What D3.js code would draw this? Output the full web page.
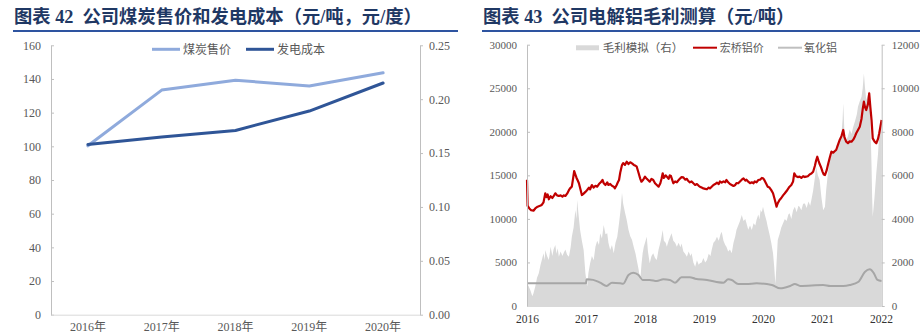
<!DOCTYPE html>
<html><head><meta charset="utf-8">
<script src="https://cdn.jsdelivr.net/npm/d3@7"></script>
<style>body{margin:0;background:#fff;} svg{display:block;}</style>
</head><body>
<svg id="c" width="920" height="334"></svg>
<script>
// ---------- DATA: left chart ----------
const leftTitle = "图表 42\u00A0\u00A0公司煤炭售价和发电成本（元/吨，元/度）";
const years = ["2016年", "2017年", "2018年", "2019年", "2020年"];
const coalPrice = [100.3, 133.4, 139.3, 135.8, 143.7];      // 煤炭售价 (left axis)
const powerCost = [0.158, 0.165, 0.171, 0.189, 0.215];      // 发电成本 (right axis)
const leftTicksL = [0, 20, 40, 60, 80, 100, 120, 140, 160];
const leftTicksR = [0, 0.05, 0.10, 0.15, 0.20, 0.25];
const leftLegend = ["煤炭售价", "发电成本"];

// ---------- DATA: right chart ----------
const rightTitle = "图表 43\u00A0\u00A0公司电解铝毛利测算（元/吨）";
const rightLegend = ["毛利模拟（右）", "宏桥铝价", "氧化铝"];
const yearTicks = [2016, 2017, 2018, 2019, 2020, 2021, 2022];
const priceTicks = [0, 5000, 10000, 15000, 20000, 25000, 30000];
const marginTicks = [0, 2000, 4000, 6000, 8000, 10000, 12000];
// 宏桥铝价 [decimal year, 元/吨] (left axis)
const alPrice = [
[2016.00,14500],[2016.01,11500],[2016.04,11200],[2016.07,11000],[2016.11,10940],[2016.14,11200],[2016.18,11400],[2016.22,11500],[2016.25,11600],[2016.28,11900],[2016.31,12940],[2016.33,12500],[2016.35,12800],[2016.37,12250],[2016.40,12600],[2016.43,12400],[2016.46,12700],[2016.48,12940],[2016.51,12700],[2016.54,12630],[2016.57,12700],[2016.60,12550],[2016.62,12700],[2016.65,12630],[2016.68,12900],[2016.71,13300],[2016.73,13510],[2016.76,13700],[2016.78,14600],[2016.80,15500],[2016.82,15100],[2016.84,14700],[2016.86,14400],[2016.88,14090],[2016.91,13300],[2016.93,12740],[2016.96,12900],[2016.99,13100],
[2017.02,13320],[2017.05,13600],[2017.07,13400],[2017.10,13890],[2017.13,13600],[2017.16,13800],[2017.19,13700],[2017.22,14000],[2017.25,14200],[2017.28,14470],[2017.30,14100],[2017.33,13890],[2017.36,14200],[2017.38,13900],[2017.41,14010],[2017.44,13800],[2017.47,13700],[2017.49,13510],[2017.52,13900],[2017.54,14200],[2017.56,14470],[2017.58,15300],[2017.61,16190],[2017.63,16400],[2017.66,16200],[2017.69,16570],[2017.72,16300],[2017.75,16500],[2017.78,16380],[2017.81,16200],[2017.84,16100],[2017.86,15990],[2017.89,15300],[2017.92,14600],[2017.94,14270],[2017.97,14500],
[2018.00,14850],[2018.03,14600],[2018.06,14400],[2018.08,14270],[2018.11,14600],[2018.14,14470],[2018.17,14100],[2018.20,13900],[2018.23,13700],[2018.26,14100],[2018.28,14600],[2018.30,15230],[2018.32,14700],[2018.35,15000],[2018.37,14850],[2018.40,14600],[2018.42,15000],[2018.44,14920],[2018.46,14500],[2018.48,14090],[2018.51,14300],[2018.54,14200],[2018.56,14380],[2018.59,14600],[2018.62,14800],[2018.65,14770],[2018.68,14500],[2018.71,14600],[2018.73,14380],[2018.76,14200],[2018.79,14300],[2018.82,14090],[2018.85,13900],[2018.88,14000],[2018.91,13800],[2018.93,13700],[2018.96,13600],[2018.99,13500],
[2019.02,13450],[2019.05,13400],[2019.08,13600],[2019.10,13500],[2019.13,13700],[2019.16,13900],[2019.19,14000],[2019.22,14160],[2019.25,14000],[2019.27,14300],[2019.30,14160],[2019.33,14300],[2019.36,14200],[2019.38,14470],[2019.41,14200],[2019.44,14000],[2019.47,13900],[2019.50,13780],[2019.53,13900],[2019.55,14100],[2019.58,14090],[2019.61,14300],[2019.64,14500],[2019.67,14660],[2019.70,14400],[2019.72,14500],[2019.75,14270],[2019.78,14100],[2019.81,14200],[2019.84,14090],[2019.86,14300],[2019.89,14200],[2019.92,14470],[2019.95,14500],[2019.98,14700],
[2020.00,14660],[2020.02,14500],[2020.05,14100],[2020.08,13700],[2020.11,13600],[2020.14,13300],[2020.17,12940],[2020.20,12200],[2020.23,11400],[2020.25,11800],[2020.28,12170],[2020.31,12400],[2020.34,12700],[2020.37,12940],[2020.40,13200],[2020.43,13500],[2020.45,13700],[2020.48,13900],[2020.51,14300],[2020.53,15230],[2020.56,14900],[2020.59,14800],[2020.62,14850],[2020.65,14700],[2020.68,14900],[2020.71,14800],[2020.73,14850],[2020.76,14900],[2020.79,15100],[2020.82,15200],[2020.85,15420],[2020.88,16100],[2020.90,16700],[2020.92,17140],[2020.94,16700],[2020.96,16300],[2020.98,15990],[2021.01,15400],
[2021.03,15100],[2021.05,15040],[2021.08,15600],[2021.10,16190],[2021.13,17000],[2021.16,17720],[2021.19,17600],[2021.22,17800],[2021.24,17910],[2021.27,18500],[2021.30,19060],[2021.33,19500],[2021.36,20210],[2021.38,19400],[2021.41,18860],[2021.44,18700],[2021.47,18900],[2021.50,18860],[2021.53,19100],[2021.56,19500],[2021.58,19830],[2021.61,20200],[2021.64,20590],[2021.67,21500],[2021.69,22600],[2021.71,23460],[2021.73,22800],[2021.75,22500],[2021.78,23200],[2021.80,24420],[2021.82,22800],[2021.84,21350],[2021.86,19250],[2021.89,18900],[2021.92,18680],[2021.95,19200],[2021.97,19830],[2022.01,21350]];
// 毛利模拟 [decimal year, 元/吨] (right axis)
const margin = [
[2016.00,1040],[2016.03,900],[2016.06,700],[2016.09,450],[2016.11,580],[2016.14,900],[2016.17,1300],[2016.20,1500],[2016.23,1900],[2016.26,2200],[2016.28,2420],[2016.30,2100],[2016.31,2570],[2016.34,2300],[2016.37,2110],[2016.39,2500],[2016.40,2720],[2016.43,2300],[2016.45,2600],[2016.48,2800],[2016.50,2400],[2016.52,2650],[2016.54,2260],[2016.57,2500],[2016.60,2300],[2016.62,2420],[2016.65,2600],[2016.68,2350],[2016.71,2260],[2016.74,2700],[2016.76,3180],[2016.79,3600],[2016.82,4410],[2016.84,4000],[2016.85,4870],[2016.87,4300],[2016.90,3490],[2016.93,3000],[2016.96,2570],[2016.99,1500],
[2017.02,890],[2017.04,1500],[2017.07,1960],[2017.10,2300],[2017.13,2100],[2017.16,2720],[2017.19,3000],[2017.22,2800],[2017.24,3340],[2017.27,3100],[2017.30,3720],[2017.33,3300],[2017.36,3340],[2017.38,2900],[2017.41,2570],[2017.44,2800],[2017.47,2420],[2017.50,2900],[2017.53,3180],[2017.56,3800],[2017.59,4500],[2017.61,5200],[2017.63,4700],[2017.66,4300],[2017.69,3950],[2017.72,3500],[2017.75,3200],[2017.78,3030],[2017.81,2700],[2017.84,2400],[2017.86,2110],[2017.89,1700],[2017.92,1190],[2017.94,1900],[2017.96,2420],[2017.98,2720],
[2018.01,3000],[2018.03,3180],[2018.05,2500],[2018.08,1960],[2018.11,2300],[2018.14,2420],[2018.17,2200],[2018.20,2110],[2018.23,2600],[2018.25,2800],[2018.27,3030],[2018.30,3490],[2018.32,3000],[2018.35,2900],[2018.37,2720],[2018.40,3000],[2018.43,3200],[2018.45,3340],[2018.48,3000],[2018.51,2900],[2018.54,2720],[2018.57,2900],[2018.60,2700],[2018.62,2870],[2018.65,2500],[2018.68,2400],[2018.71,2260],[2018.74,2500],[2018.77,2300],[2018.79,2420],[2018.82,2000],[2018.85,1800],[2018.88,2100],[2018.91,1900],[2018.93,1960],[2018.96,2000],[2018.99,2200],
[2019.02,2000],[2019.05,2110],[2019.08,2400],[2019.11,2300],[2019.13,2570],[2019.16,2900],[2019.19,3000],[2019.22,3180],[2019.25,3000],[2019.28,3300],[2019.30,3410],[2019.33,3000],[2019.36,2800],[2019.38,2720],[2019.41,2500],[2019.44,2600],[2019.47,2420],[2019.50,2900],[2019.53,3200],[2019.55,3490],[2019.58,3700],[2019.61,3900],[2019.64,4180],[2019.67,3900],[2019.70,4000],[2019.72,3800],[2019.75,3500],[2019.78,3700],[2019.81,3490],[2019.84,3800],[2019.87,3700],[2019.89,3950],[2019.92,4200],[2019.94,4000],[2019.96,4410],[2019.98,4300],
[2020.00,4560],[2020.03,4200],[2020.06,3900],[2020.08,3640],[2020.11,3300],[2020.14,2900],[2020.17,2420],[2020.19,1800],[2020.21,1000],[2020.23,2000],[2020.25,3030],[2020.28,3300],[2020.31,3600],[2020.34,3800],[2020.37,4000],[2020.40,3900],[2020.43,4200],[2020.45,4260],[2020.48,4000],[2020.51,4400],[2020.54,4560],[2020.57,4300],[2020.60,4600],[2020.62,4560],[2020.65,4400],[2020.68,4700],[2020.71,4710],[2020.74,4500],[2020.77,4800],[2020.80,4600],[2020.82,4870],[2020.85,5300],[2020.88,5900],[2020.90,6400],[2020.93,6000],[2020.96,5790],[2020.99,5000],
[2021.02,4400],[2021.05,4560],[2021.07,5300],[2021.10,6090],[2021.13,6700],[2021.16,6900],[2021.19,7160],[2021.22,7000],[2021.25,7400],[2021.27,7310],[2021.30,7600],[2021.33,7900],[2021.35,8600],[2021.36,9310],[2021.38,8000],[2021.41,7620],[2021.44,7800],[2021.47,8100],[2021.50,7900],[2021.53,8230],[2021.56,8500],[2021.59,8800],[2021.61,9150],[2021.64,9400],[2021.67,9610],[2021.69,10000],[2021.71,10680],[2021.73,10000],[2021.75,9460],[2021.78,9700],[2021.80,9920],[2021.82,8500],[2021.84,6400],[2021.85,5000],[2021.86,4100],[2021.89,5000],[2021.92,6090],[2021.95,7000],[2021.97,7930],[2022.01,8540]];
// 氧化铝 [decimal year, 元/吨] (left axis)
const alumina = [[2016.00,2600],[2017.00,2600],[2017.01,3060],[2017.12,3000],[2017.24,2680],[2017.35,2300],[2017.44,2680],[2017.58,2600],[2017.63,2550],[2017.72,3560],[2017.80,3820],[2017.89,3560],[2017.96,2990],
[2018.08,2990],[2018.20,2870],[2018.31,3060],[2018.42,2990],[2018.51,2680],[2018.62,3290],[2018.76,3290],[2018.85,3140],
[2019.05,2990],[2019.33,2680],[2019.41,3060],[2019.47,2990],[2019.58,2530],[2019.72,2530],[2019.89,2600],
[2020.15,2410],[2020.29,2030],[2020.46,2300],[2020.54,2530],[2020.63,2300],
[2021.02,2410],[2021.14,2300],[2021.36,2300],[2021.47,2410],[2021.62,2790],[2021.73,3940],[2021.81,4210],[2021.88,3750],[2021.94,2990],[2022.01,2870]];

// ---------- STYLE ----------
const NUM = "'Liberation Serif','Times New Roman','Noto Sans CJK SC',serif";
const CJK = "'Noto Sans CJK SC','Liberation Sans',sans-serif";
const TXT = "#595959", AX = "#BFBFBF";
const svg = d3.select("#c");

function title(x, text, x0, x1) {
  svg.append("text").attr("x", x).attr("y", 23).text(text)
    .attr("font-family", NUM).attr("font-weight", "bold").attr("font-size", 18.3)
    .attr("fill", "#1F3864");
  svg.append("rect").attr("x", x0).attr("y", 30).attr("width", x1 - x0).attr("height", 2).attr("fill", "#2E54A0");
}
function styleAxis(g, size) {
  g.select(".domain").attr("stroke", AX);
  g.selectAll(".tick line").attr("stroke", AX);
  g.selectAll(".tick text").attr("fill", TXT).attr("font-family", NUM).attr("font-size", size);
}

// ================= LEFT CHART =================
title(14, leftTitle, 13, 458);
const xB = d3.scaleBand().domain(years).range([51, 420]);
const yL = d3.scaleLinear().domain([0, 160]).range([314.7, 45.3]);
const yR = d3.scaleLinear().domain([0, 0.25]).range([314.7, 45.3]);

svg.append("g").attr("transform", "translate(51,0)")
  .call(d3.axisLeft(yL).tickValues(leftTicksL).tickSize(-3).tickSizeOuter(0).tickPadding(10))
  .call(g => styleAxis(g, 12));
svg.append("g").attr("transform", "translate(420,0)")
  .call(d3.axisRight(yR).tickValues(leftTicksR).tickSize(3).tickSizeOuter(0).tickPadding(6).tickFormat(d3.format(".2f")))
  .call(g => styleAxis(g, 12));
svg.append("g").attr("transform", "translate(0,314.7)")
  .call(d3.axisBottom(xB).tickSize(0).tickPadding(7.5))
  .call(g => { styleAxis(g, 12); g.select(".domain").attr("stroke", "#D9D9D9"); });

const cx = d => xB(d) + xB.bandwidth() / 2;
const lineL = d3.line().x((d, i) => cx(years[i])).y(d => yL(d));
const lineR = d3.line().x((d, i) => cx(years[i])).y(d => yR(d));
svg.append("path").attr("d", lineL(coalPrice)).attr("fill", "none").attr("stroke", "#8FAADC")
  .attr("stroke-width", 3).attr("stroke-linejoin", "round").attr("stroke-linecap", "round");
svg.append("path").attr("d", lineR(powerCost)).attr("fill", "none").attr("stroke", "#2F5597")
  .attr("stroke-width", 3).attr("stroke-linejoin", "round").attr("stroke-linecap", "round");

// legend
[[152, "#8FAADC", leftLegend[0]], [246, "#2F5597", leftLegend[1]]].forEach(([x, c, t]) => {
  svg.append("line").attr("x1", x).attr("x2", x + 28).attr("y1", 49.3).attr("y2", 49.3)
    .attr("stroke", c).attr("stroke-width", 3);
  svg.append("text").attr("x", x + 31).attr("y", 53.5).text(t)
    .attr("font-family", CJK).attr("font-size", 12).attr("fill", TXT);
});

// ================= RIGHT CHART =================
title(483, rightTitle, 482, 920);
const xT = d3.scaleLinear().domain([2016, 2022]).range([527, 881]);
const yP = d3.scaleLinear().domain([0, 30000]).range([306, 44.7]);
const yM = d3.scaleLinear().domain([0, 12000]).range([306, 44.7]);

const area = d3.area().x(d => xT(d[0])).y0(yM(0)).y1(d => yM(d[1]));
svg.append("path").attr("d", area(margin)).attr("fill", "#D9D9D9");

const lineA = d3.line().x(d => xT(d[0])).y(d => yP(d[1])).curve(d3.curveMonotoneX);
svg.append("path").attr("d", lineA(alumina)).attr("fill", "none").attr("stroke", "#A6A6A6").attr("stroke-width", 2);
const lineP = d3.line().x(d => xT(d[0])).y(d => yP(d[1]));
svg.append("path").attr("d", lineP(alPrice)).attr("fill", "none").attr("stroke", "#C00000")
  .attr("stroke-width", 2.2).attr("stroke-linejoin", "round");

svg.append("g").attr("transform", "translate(527,0)")
  .call(d3.axisLeft(yP).tickValues(priceTicks).tickSize(-3).tickSizeOuter(0).tickPadding(10).tickFormat(d3.format("d")))
  .call(g => styleAxis(g, 11));
svg.append("g").attr("transform", "translate(881.7,0)")
  .call(d3.axisRight(yM).tickValues(marginTicks).tickSize(3).tickSizeOuter(0).tickPadding(7).tickFormat(d3.format("d")))
  .call(g => styleAxis(g, 11));
svg.append("g").attr("transform", "translate(0,306)")
  .call(d3.axisBottom(xT).tickValues(yearTicks).tickSize(0).tickSizeOuter(0).tickPadding(9).tickFormat(d3.format("d")))
  .call(g => { styleAxis(g, 11.5); g.selectAll(".tick text").attr("fill", "#333"); g.select(".domain").attr("stroke", "#D9D9D9"); });

// legend
svg.append("rect").attr("x", 576).attr("y", 45.3).attr("width", 23).attr("height", 5).attr("fill", "#D9D9D9");
svg.append("text").attr("x", 602.7).attr("y", 51.5).text(rightLegend[0])
  .attr("font-family", CJK).attr("font-size", 11.5).attr("fill", TXT);
[[693, "#C00000", rightLegend[1], 719.7], [778, "#BFBFBF", rightLegend[2], 804]].forEach(([x, c, t, tx]) => {
  svg.append("line").attr("x1", x).attr("x2", x + 24).attr("y1", 47.7).attr("y2", 47.7)
    .attr("stroke", c).attr("stroke-width", 2);
  svg.append("text").attr("x", tx).attr("y", 51.5).text(t)
    .attr("font-family", CJK).attr("font-size", 11).attr("fill", TXT);
});
</script></body></html>
